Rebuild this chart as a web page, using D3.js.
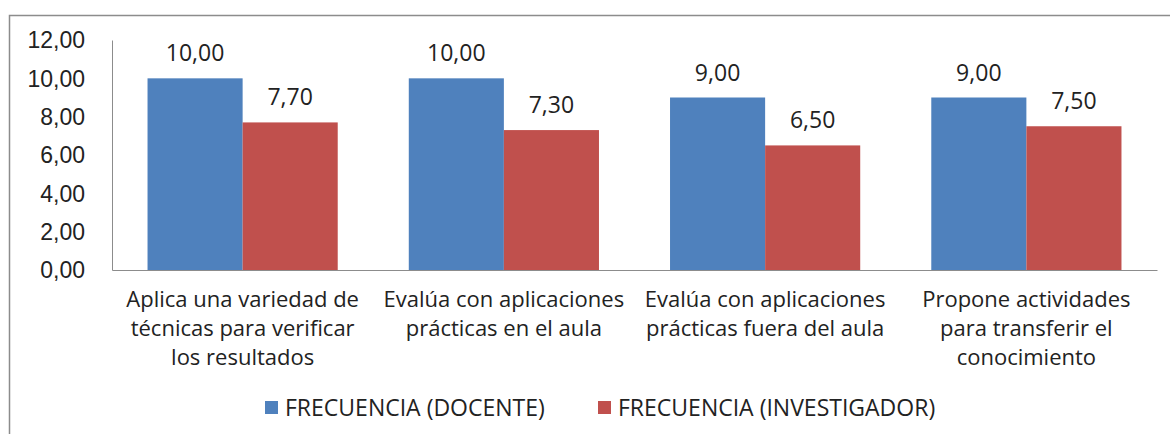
<!DOCTYPE html>
<html>
<head>
<meta charset="utf-8">
<script src="https://cdn.jsdelivr.net/npm/d3@7"></script>
<style>
  body { margin: 0; background: #fff; }
  svg { font-family: "Open Sans", "Noto Sans", sans-serif; }
</style>
</head>
<body>
<svg id="chart"></svg>
<script>
// data
const categories = [
  ["Aplica una variedad de", "técnicas para verificar", "los resultados"],
  ["Evalúa con aplicaciones", "prácticas en el aula"],
  ["Evalúa con aplicaciones", "prácticas fuera del aula"],
  ["Propone actividades", "para transferir el", "conocimiento"]
];
const seriesNames = ["FRECUENCIA (DOCENTE)", "FRECUENCIA (INVESTIGADOR)"];
const docente = [10.00, 10.00, 9.00, 9.00];
const investigador = [7.70, 7.30, 6.50, 7.50];
const yTicks = [0, 2, 4, 6, 8, 10, 12];
const colors = ["#4F81BD", "#C0504D"];

const width = 1170, height = 434;
const margins = {top: 40, right: 13, bottom: 164, left: 112};
const plotW = width - margins.left - margins.right;
const plotH = height - margins.top - margins.bottom;

let svg = d3.select('#chart').attr('width', width).attr('height', height);

// outer frame (top and left edges visible)
svg.append('path')
  .attr('d', `M9.5,${height} L9.5,15.5 L${width},15.5`)
  .attr('fill', 'none')
  .attr('stroke', '#8c8c8c')
  .attr('stroke-width', 1.5);

let fmt = v => v.toFixed(2).replace('.', ',');

let x0 = d3.scaleBand().domain(d3.range(categories.length)).range([0, plotW]).paddingInner(0.272).paddingOuter(0.136);
let x1 = d3.scaleBand().domain([0, 1]).range([0, x0.bandwidth()]);
let y = d3.scaleLinear().domain([0, 12]).range([plotH, 0]);

let chart = svg.append('g').attr('transform', `translate(${margins.left},${margins.top})`);

// Y axis
let yAxis = chart.append('g')
  .call(d3.axisLeft(y).tickValues(yTicks).tickFormat(fmt).tickSize(0).tickPadding(27));
yAxis.select('.domain').attr('stroke', '#8c8c8c');
yAxis.selectAll('text').attr('font-size', 23).attr('fill', '#222').attr('dy', '0.34em');

// X axis
let xAxis = chart.append('g')
  .attr('transform', `translate(0,${plotH})`)
  .call(d3.axisBottom(d3.scaleLinear().range([0, plotW])).tickValues([]).tickSizeOuter(0));
xAxis.select('.domain').attr('stroke', '#8c8c8c');

// bars
let groups = categories.map((c, i) => ({i: i, vals: [docente[i], investigador[i]]}));
let g = chart.selectAll('.grp').data(groups).enter().append('g')
  .attr('transform', d => `translate(${x0(d.i)},0)`);

g.selectAll('rect').data(d => d.vals.map((v, k) => ({k: k, v: v}))).enter()
  .append('rect')
  .attr('x', d => x1(d.k))
  .attr('width', x1.bandwidth())
  .attr('y', d => y(d.v))
  .attr('height', d => plotH - y(d.v))
  .attr('fill', d => colors[d.k]);

g.selectAll('.val').data(d => d.vals.map((v, k) => ({k: k, v: v}))).enter()
  .append('text')
  .attr('x', d => x1(d.k) + x1.bandwidth() / 2)
  .attr('y', d => y(d.v) - 17)
  .attr('text-anchor', 'middle')
  .attr('font-size', 23)
  .attr('fill', '#222')
  .text(d => fmt(d.v));

// category labels
chart.selectAll('.cat').data(categories).enter()
  .append('text')
  .attr('text-anchor', 'middle')
  .attr('font-size', 22)
  .attr('fill', '#222')
  .attr('transform', (d, i) => `translate(${x0(i) + x0.bandwidth() / 2},${plotH + 37})`)
  .each(function(lines) {
    d3.select(this).selectAll('tspan').data(lines).enter()
      .append('tspan')
      .attr('x', 0)
      .attr('dy', (l, j) => j === 0 ? 0 : 29)
      .text(l => l);
  });

// legend
let legendX = [265, 598];
let legend = svg.selectAll('.leg').data(seriesNames).enter().append('g')
  .attr('transform', (d, i) => `translate(${legendX[i]},401)`);
legend.append('rect').attr('width', 13).attr('height', 13).attr('fill', (d, i) => colors[i]);
legend.append('text')
  .attr('x', 20).attr('y', 15)
  .attr('font-size', 23)
  .attr('fill', '#222')
  .text(d => d);
</script>
</body>
</html>
